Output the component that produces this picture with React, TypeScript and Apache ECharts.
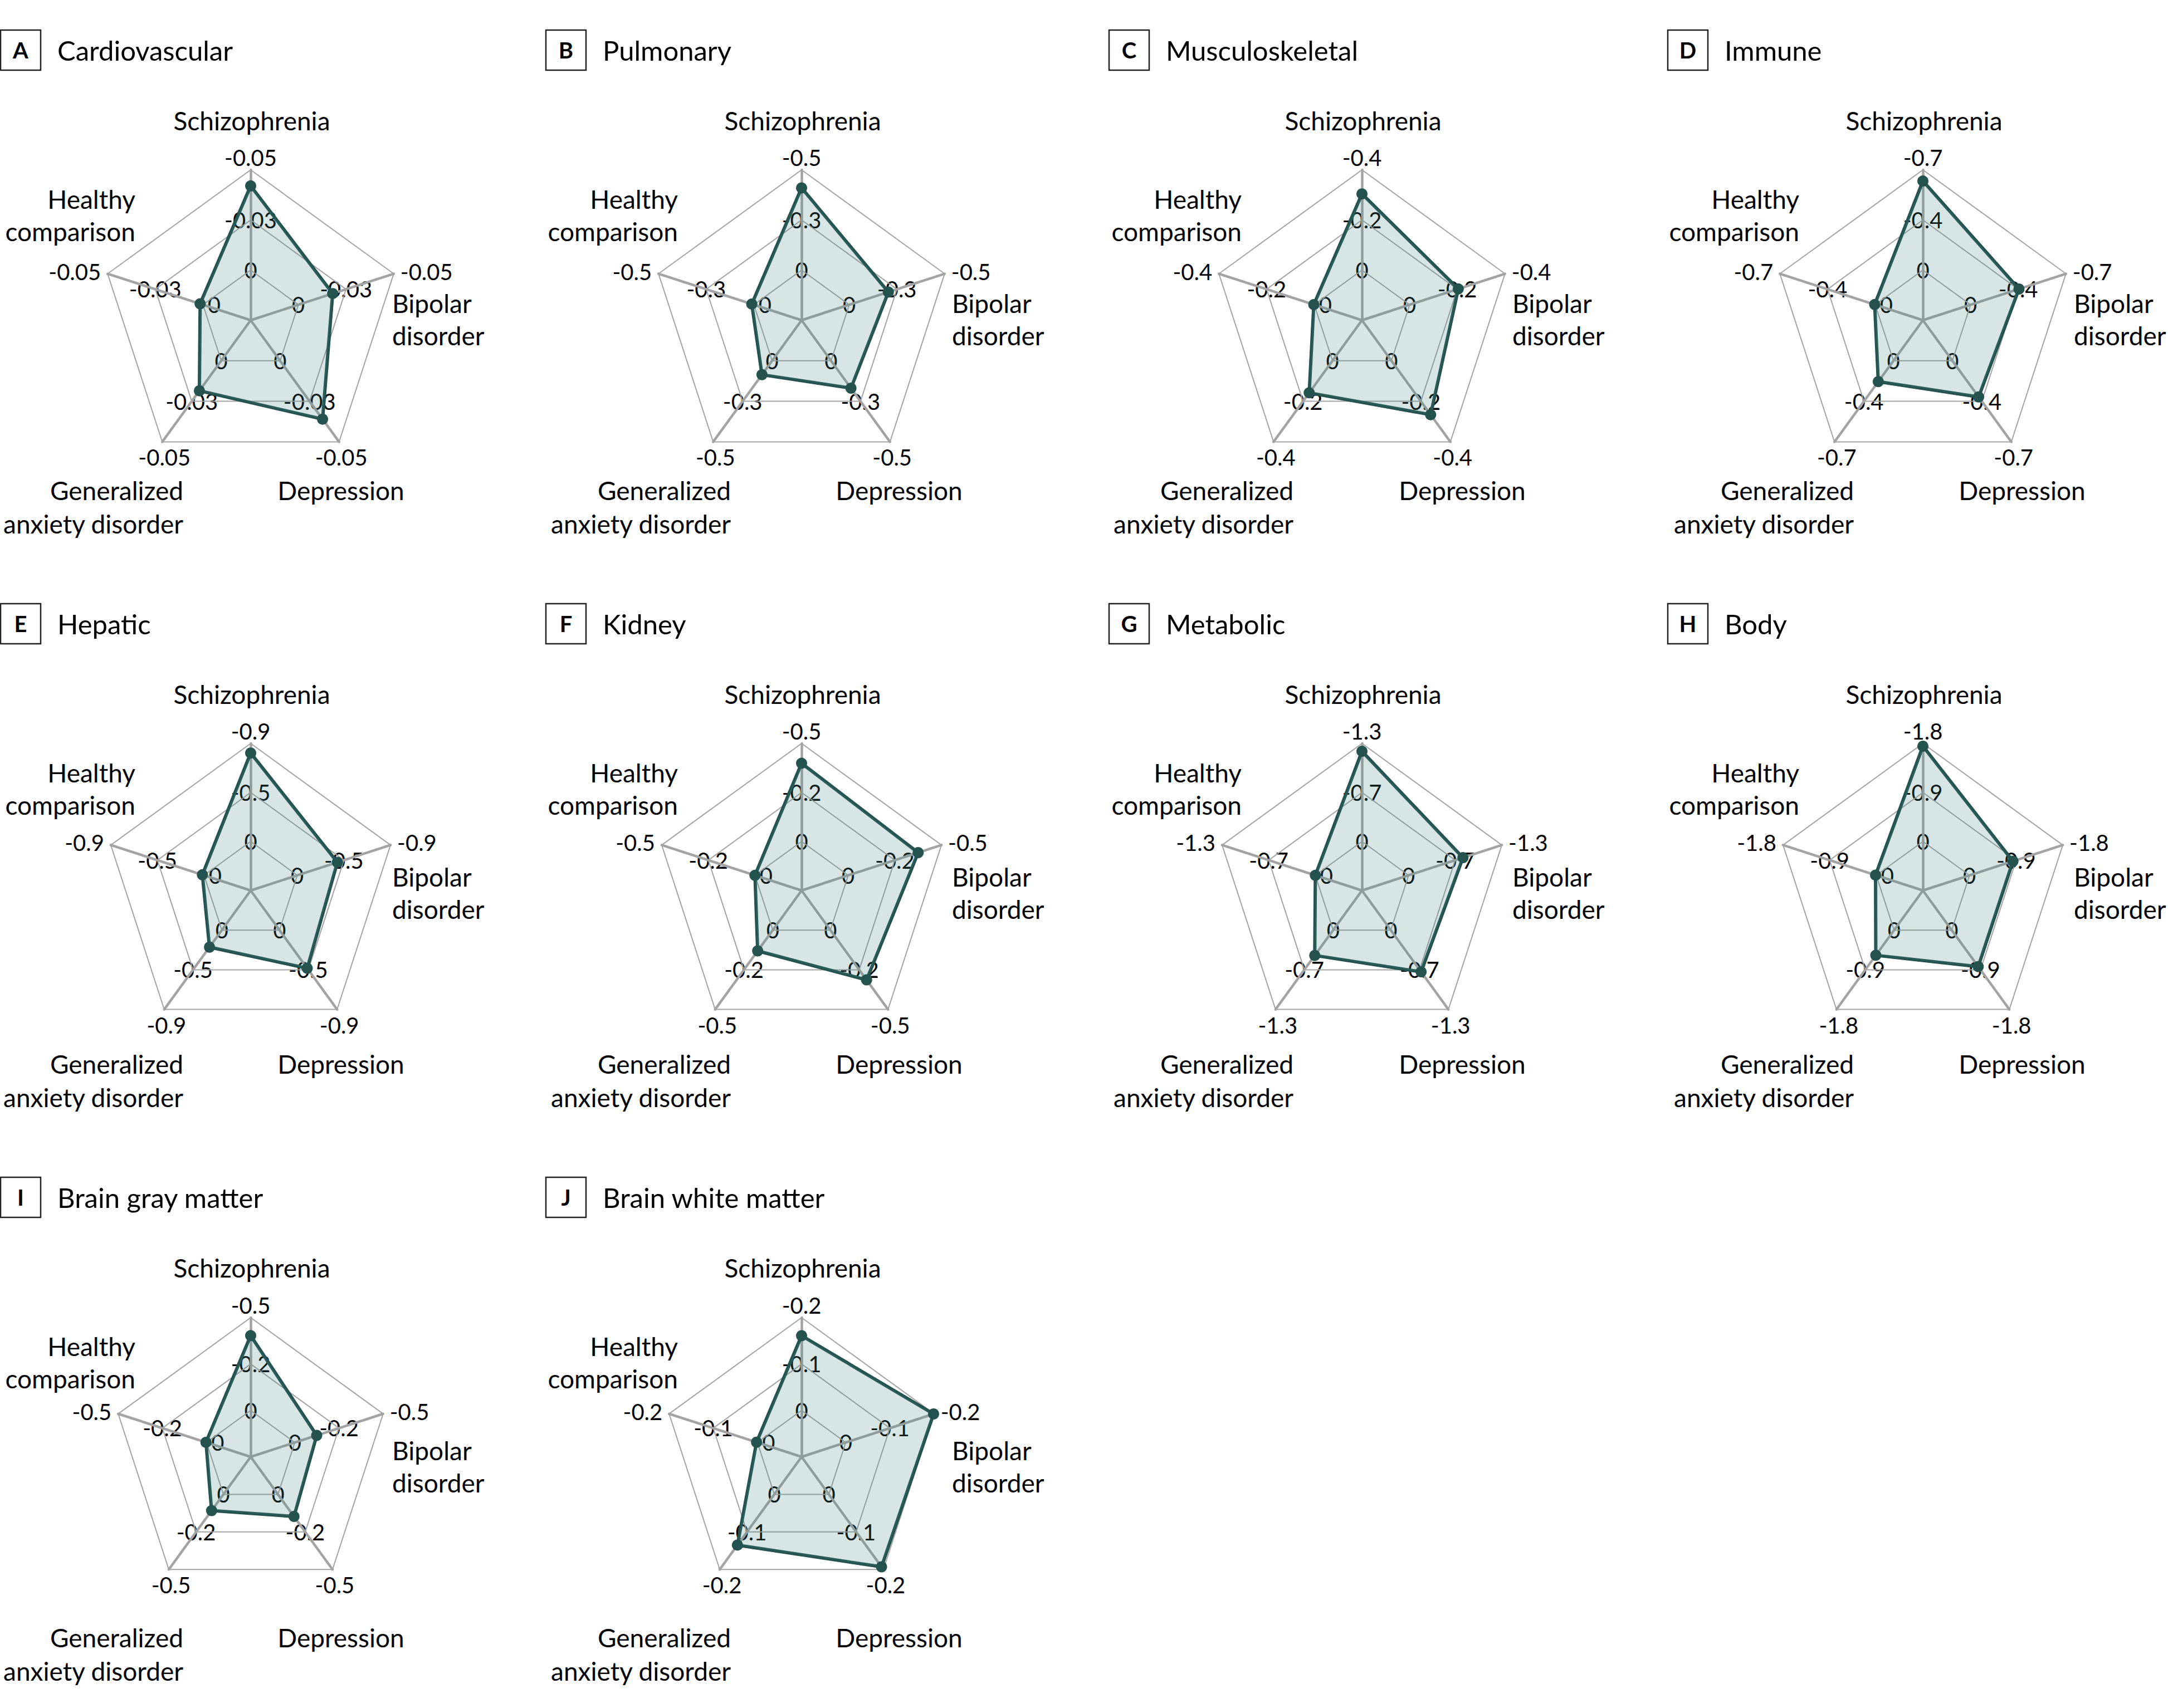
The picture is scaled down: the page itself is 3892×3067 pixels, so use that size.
import React, { useEffect, useRef } from "react";
import * as echarts from "echarts";

const W = 3892;
const H = 3067;
const FONT = "Lato, 'Noto Sans', sans-serif";

// Axis categories (clockwise from top, as read on the figure)
const categories = [
  "Schizophrenia",
  "Bipolar disorder",
  "Depression",
  "Generalized anxiety disorder",
  "Healthy comparison",
];

const panelLetters = ["A", "B", "C", "D", "E", "F", "G", "H", "I", "J"];
const panelTitles = [
  "Cardiovascular",
  "Pulmonary",
  "Musculoskeletal",
  "Immune",
  "Hepatic",
  "Kidney",
  "Metabolic",
  "Body",
  "Brain gray matter",
  "Brain white matter",
];

// Tick values / labels per panel (outer ring, middle ring, inner ring)
const outerTickValues = [-0.05, -0.5, -0.4, -0.7, -0.9, -0.5, -1.3, -1.8, -0.5, -0.2];
const outerTickLabels = ["-0.05", "-0.5", "-0.4", "-0.7", "-0.9", "-0.5", "-1.3", "-1.8", "-0.5", "-0.2"];
const midTickLabels = ["-0.03", "-0.3", "-0.2", "-0.4", "-0.5", "-0.2", "-0.7", "-0.9", "-0.2", "-0.1"];
const innerTickLabel = "0";

// Values, order: Schizophrenia, Bipolar, Depression, GAD, Healthy comparison
const cardiovascular = [-0.042, -0.018, -0.036, -0.0185, -0.0015];
const pulmonary = [-0.41, -0.205, -0.169, -0.086, -0.011];
const musculoskeletal = [-0.304, -0.204, -0.266, -0.158, -0.002];
const immune = [-0.622, -0.355, -0.312, -0.18, -0.004];
const hepatic = [-0.812, -0.387, -0.433, -0.193, -0.016];
const kidney = [-0.399, -0.375, -0.314, -0.131, 0.0];
const metabolic = [-1.196, -0.758, -0.684, -0.415, 0.0];
const body = [-1.75, -0.838, -0.828, -0.571, -0.014];
const brainGrayMatter = [-0.403, -0.124, -0.147, -0.108, -0.003];
const brainWhiteMatter = [-0.161, -0.199, -0.193, -0.135, -0.002];

const panelValues = [
  cardiovascular,
  pulmonary,
  musculoskeletal,
  immune,
  hepatic,
  kidney,
  metabolic,
  body,
  brainGrayMatter,
  brainWhiteMatter,
];

// ---- layout (pixels) ----
const colX = [450, 1439, 2445, 3452];
const boxLeft = [1, 980, 1991, 2994];
const rowTop = [40, 1070, 2100];
const rowCenterDy = [535, 529, 516];
const rowRadius = [270, 264, 250];
const axisAngles = [90, 18, -54, -126, 162]; // per category
// ECharts radar places indicators counter-clockwise from the top
const echartsOrder = [0, 4, 3, 2, 1];

// category label layout; x offsets given per column (first column is a bit narrower)
const catLabelLayout = [
  { lines: ["Schizophrenia"], x: [2, 2, 2, 2], y: [176], align: "center" },
  { lines: ["Bipolar", "disorder"], x: [254, 270, 270, 271], y: [504, 562], align: "left" },
  { lines: ["Depression"], x: [162, 175, 180, 178], y: [840], align: "center" },
  { lines: ["Generalized", "anxiety disorder"], x: [-121, -127, -123, -124], y: [840, 900], align: "right" },
  { lines: ["Healthy", "comparison"], x: [-207, -222, -216, -222], y: [317, 375], align: "right" },
];

const outerLabelOffset = [
  { dx: 0, dy: -22, align: "center" },
  { dx: 12, dy: -4, align: "left" },
  { dx: 4, dy: 28, align: "center" },
  { dx: 4, dy: 28, align: "center" },
  { dx: -12, dy: -4, align: "right" },
];

const LINE = "#24524f";
const GRID = "#a3a3a3";
const TEXT = "#000000";

function buildOption() {
  const radars: any[] = [];
  const series: any[] = [];
  const graphics: any[] = [];

  const txt = (text: string, x: number, y: number, size: number, align: string, weight = "normal") => ({
    type: "text",
    x,
    y,
    silent: true,
    style: {
      text,
      fontFamily: FONT,
      fontSize: size,
      fontWeight: weight,
      fill: TEXT,
      align,
      verticalAlign: "middle",
    },
  });

  panelValues.forEach((vals, i) => {
    const row = Math.floor(i / 4);
    const col = i % 4;
    const cx = colX[col];
    const top = rowTop[row];
    const cy = top + rowCenterDy[row];
    const r = rowRadius[row];
    const outer = outerTickValues[i];

    radars.push({
      center: [cx, cy],
      radius: r,
      startAngle: 90,
      splitNumber: 3,
      shape: "polygon",
      indicator: echartsOrder.map((k) => ({ name: categories[k], min: outer / 2, max: -outer })),
      axisName: { show: false },
      axisLine: { show: true, lineStyle: { color: GRID, width: 4.5 } },
      splitLine: { show: true, lineStyle: { color: GRID, width: 2 } },
      splitArea: { show: false },
      axisTick: { show: false },
      axisLabel: { show: false },
    });

    series.push({
      type: "radar",
      radarIndex: i,
      symbol: "circle",
      symbolSize: 20,
      silent: true,
      lineStyle: { color: LINE, width: 6 },
      itemStyle: { color: LINE },
      areaStyle: { color: "rgba(65,132,128,0.3)" },
      data: [{ name: panelTitles[i], value: echartsOrder.map((k) => -vals[k]) }],
    });

    // panel heading
    const bl = boxLeft[col];
    graphics.push({
      type: "rect",
      silent: true,
      shape: { x: bl, y: top + 14, width: 72, height: 72 },
      style: { fill: "none", stroke: "#222", lineWidth: 2.5 },
    });
    graphics.push(txt(panelLetters[i], bl + 36, top + 50, 40, "center", "bold"));
    graphics.push(txt(panelTitles[i], bl + 102, top + 50, 49, "left"));

    // category labels
    catLabelLayout.forEach((c) => {
      c.lines.forEach((ln, j) => {
        graphics.push(txt(ln, cx + c.x[col], top + c.y[j], 46, c.align));
      });
    });

    // tick labels
    axisAngles.forEach((deg, k) => {
      const a = (deg * Math.PI) / 180;
      const ux = Math.cos(a);
      const uy = -Math.sin(a);
      const o = outerLabelOffset[k];
      graphics.push(txt(outerTickLabels[i], cx + ux * r + o.dx, cy + uy * r + o.dy, 40, o.align));
      graphics.push(txt(midTickLabels[i], cx + (ux * r * 2) / 3, cy + (uy * r * 2) / 3, 40, "center"));
      const innerDx = k === 4 ? 20 : 0;
      graphics.push(txt(innerTickLabel, cx + (ux * r) / 3 + innerDx, cy + (uy * r) / 3, 40, "center"));
    });
  });

  return {
    animation: false,
    backgroundColor: "#ffffff",
    radar: radars,
    series,
    graphic: { elements: graphics },
  };
}

export default function App() {
  const ref = useRef<HTMLDivElement>(null);
  useEffect(() => {
    document.body.style.margin = "0";
    const chart = echarts.init(ref.current as HTMLDivElement, null, { renderer: "svg", width: W, height: H });
    chart.setOption(buildOption() as any);
    return () => chart.dispose();
  }, []);
  return <div ref={ref} style={{ position: "absolute", left: 0, top: 0, width: W, height: H }} />;
}
